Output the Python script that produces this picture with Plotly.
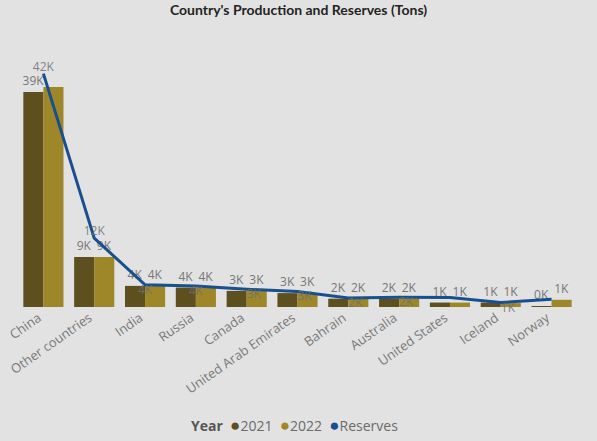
import plotly.graph_objects as go

# Production and reserves by country, in tons
countries = ["China", "Other countries", "India", "Russia", "Canada",
             "United Arab Emirates", "Bahrain", "Australia", "United States",
             "Iceland", "Norway"]
prod_2021 = [38700, 9000, 3800, 3500, 2900, 2500, 1500, 1500, 800, 800, 100]
prod_2022 = [39600, 9000, 3800, 3500, 2900, 2500, 1500, 1500, 800, 700, 1300]
reserves = [42000, 12400, 4000, 3800, 3200, 2800, 1600, 1750, 1700, 800, 1400]

# Labels that would collide with other labels are left out
hidden_2022 = {"China"}
hidden_reserves = {"United States", "Norway"}

# Where each reserves label sits relative to its point
reserve_label_pos = ["top center", "top center", "bottom center", "bottom center",
                     "bottom right", "bottom right", "bottom right", "bottom right",
                     "bottom right", "bottom right", "bottom right"]

C2021 = "#5e4f1f"
C2022 = "#9e8729"
CRES = "#184f8e"
FONT = "Open Sans"
BG = "#e2e2e2"


def k_label(v):
    return f"{int(v / 1000 + 0.5)}K"


text_2021 = [k_label(v) for v in prod_2021]
text_2022 = ["" if c in hidden_2022 else k_label(v) for c, v in zip(countries, prod_2022)]
text_res = ["" if c in hidden_reserves else k_label(v) for c, v in zip(countries, reserves)]

fig = go.Figure()

fig.add_trace(go.Bar(
    x=countries, y=prod_2021, name="2021", marker_color=C2021,
    marker_line_width=0, text=text_2021, textposition="outside",
    textfont=dict(family=FONT, size=12, color="#777777"),
    constraintext="none", cliponaxis=False, showlegend=False,
))
fig.add_trace(go.Bar(
    x=countries, y=prod_2022, name="2022", marker_color=C2022,
    marker_line_width=0, text=text_2022, textposition="outside",
    textfont=dict(family=FONT, size=12, color="#777777"),
    constraintext="none", cliponaxis=False, showlegend=False,
))
fig.add_trace(go.Scatter(
    x=countries, y=reserves, name="Reserves", mode="lines+text",
    line=dict(color=CRES, width=3), text=text_res,
    textposition=reserve_label_pos,
    textfont=dict(family=FONT, size=12, color="rgba(110,110,110,0.85)"),
    cliponaxis=False, showlegend=False,
))

# Compact legend line: "Year" followed by round colour keys
legend_items = [("2021", C2021), ("2022", C2022), ("Reserves", CRES)]
legend_text = "<span style='color:#555555'><b>Year</b></span>&nbsp; " + "&nbsp; ".join(
    f"<span style='color:{col};font-size:17px'>●</span>{name}" for name, col in legend_items
)

fig.update_layout(
    width=597, height=441,
    margin=dict(l=18, r=20, t=57, b=134, autoexpand=False),
    paper_bgcolor=BG, plot_bgcolor=BG,
    barmode="group", bargap=0.21, bargroupgap=0,
    showlegend=False,
    title=dict(
        text="<b>Country's Production and Reserves (Tons)</b>",
        x=0.5, xref="container", xanchor="center",
        y=0.977, yref="container", yanchor="middle",
        font=dict(family="Lato", size=14, color="#252423"),
    ),
    xaxis=dict(
        range=[-0.5, 10.5], showgrid=False, showline=False, zeroline=False,
        ticks="", tickangle=-35, automargin=False, ticklabelshift=-5,
        tickfont=dict(family=FONT, size=13, color="#7a7a7a"),
    ),
    yaxis=dict(
        range=[0, 45000], visible=False, showgrid=False, zeroline=False,
        automargin=False,
    ),
    annotations=[dict(
        text=legend_text, xref="paper", yref="paper",
        x=0.4955, y=-0.468, xanchor="center", yanchor="middle",
        showarrow=False, font=dict(family=FONT, size=14, color="#6a6a6a"),
    )],
)

fig.write_html("out.html")
